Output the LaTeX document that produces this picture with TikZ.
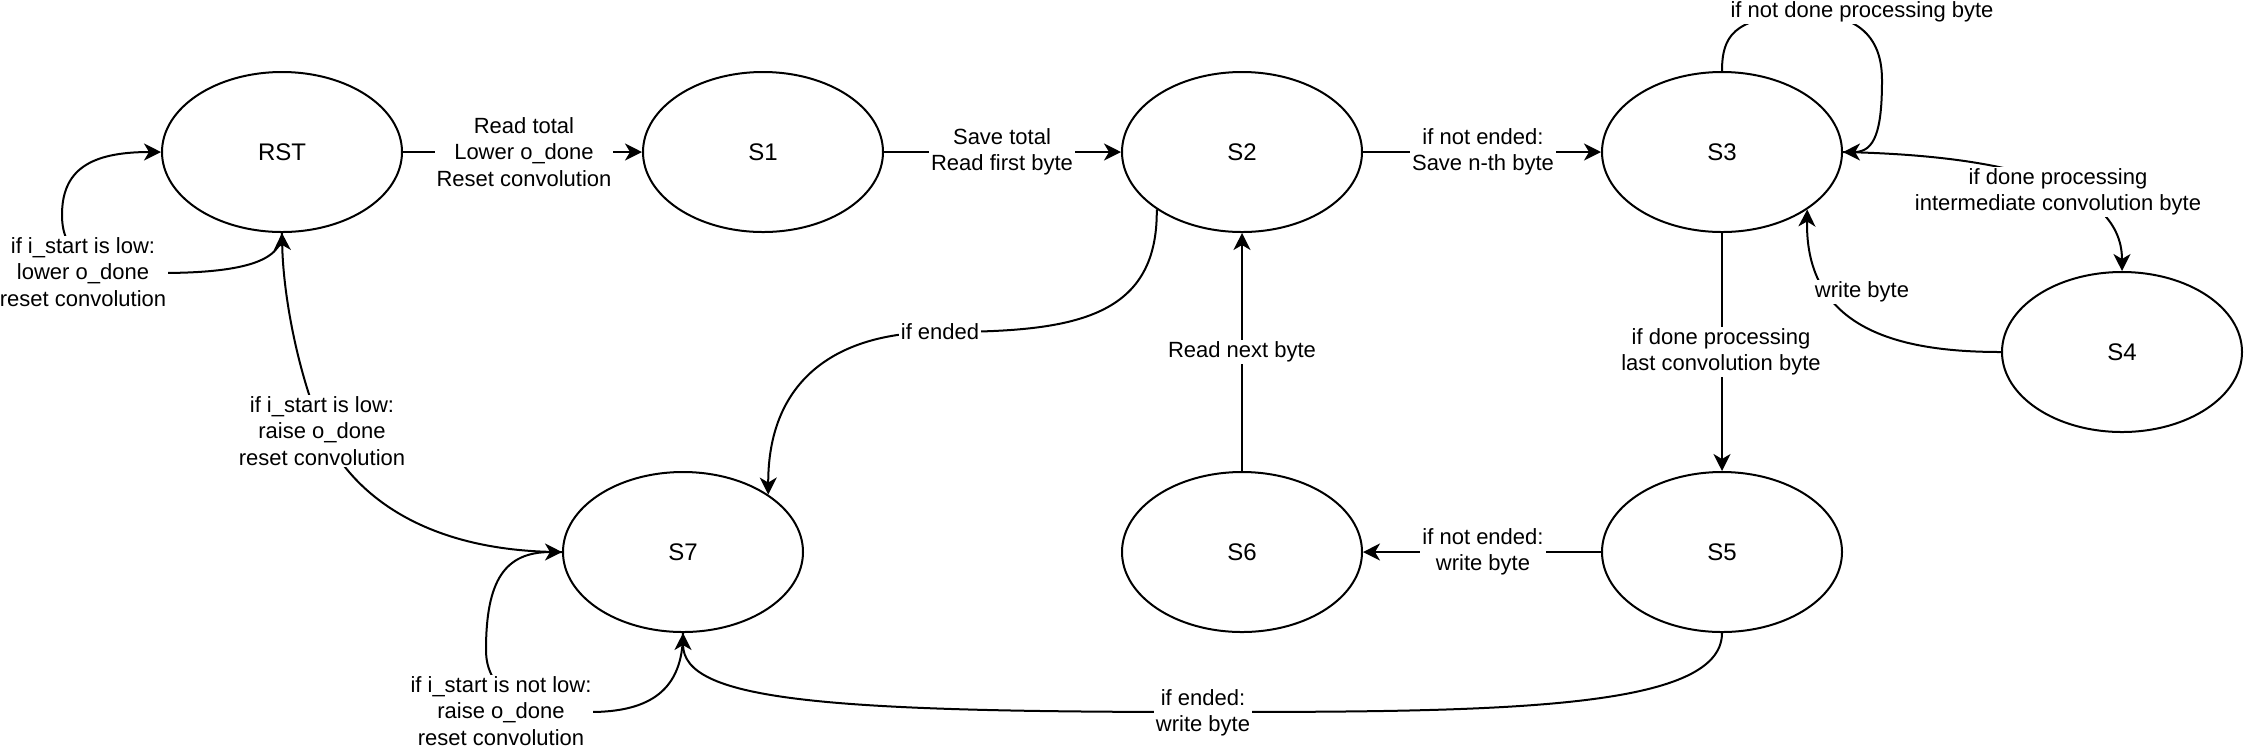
\documentclass[tikz,border=0pt]{standalone}
\usepackage{fontspec}
\setmainfont{Liberation Sans}
\usetikzlibrary{arrows.meta,shapes.geometric}
\begin{document}
\begin{tikzpicture}[x=0.5pt,y=-0.5pt,
  state/.style={ellipse,draw,line width=1pt,minimum width=120pt,minimum height=80pt,
    inner sep=0pt,font=\fontsize{12}{14.4}\selectfont},
  tr/.style={line width=1pt,-{Stealth[length=8.5pt,width=8.5pt,inset=2.5pt]}},
  lbl/.style={fill=white,align=center,inner sep=1pt,font=\fontsize{11}{13.2}\selectfont}]
\useasboundingbox (0,0) rectangle (2244,752);

% states
\node[state] (RST) at (282,152) {RST};
\node[state] (S1)  at (763,152) {S1};
\node[state] (S2)  at (1242,152) {S2};
\node[state] (S3)  at (1722,152) {S3};
\node[state] (S4)  at (2122,352) {S4};
\node[state] (S5)  at (1722,552) {S5};
\node[state] (S6)  at (1242,552) {S6};
\node[state] (S7)  at (683,552) {S7};

% transitions
\draw[tr] (RST.east) -- (S1.west);
\draw[tr] (S1.east) -- (S2.west);
\draw[tr] (S2.east) -- (S3.west);
\draw[tr] (S3.north) .. controls (1722,35) and (1735,20) .. (1790,14)
  .. controls (1850,10) and (1882,30) .. (1882,80)
  .. controls (1882,130) and (1875,152) .. (S3.east);
\draw[tr] (S3.east) .. controls (1990,155) and (2122,180) .. (S4.north);
\draw[tr] (S4.west) .. controls (1900,352) and (1805,330) .. (S3.-34);
\draw[tr] (S3.south) -- (S5.north);
\draw[tr] (S5.west) -- (S6.east);
\draw[tr] (S6.north) -- (S2.south);
\draw[tr] (S2.214) .. controls (1158,320) and (1070,332) .. (940,332)
  .. controls (830,332) and (768,385) .. (S7.34);
\draw[tr] (RST.south) .. controls (282,262) and (240,273) .. (160,273)
  .. controls (90,273) and (62,255) .. (62,215)
  .. controls (62,170) and (90,152) .. (RST.west);
\draw[tr] (S7.west) .. controls (420,552) and (345,490) .. (318,420)
  .. controls (295,360) and (283,290) .. (RST.south);
\draw[tr] (S7.south) .. controls (683,690) and (650,712) .. (590,712)
  .. controls (520,712) and (486,690) .. (486,650)
  .. controls (486,580) and (505,552) .. (S7.west);
\draw[tr] (S5.south) .. controls (1722,710) and (1500,712) .. (1203,712)
  .. controls (820,712) and (683,700) .. (S7.south);

% transition labels
\node[lbl] (l1) at (524,152) {Read total\\Lower o\_done\\Reset convolution};
\node[lbl] (l2) at (1002,152) {Save total\\Read first byte};
\node[lbl] (l3) at (1483,152) {if not ended:\\Save n-th byte};
\node[lbl] (l4) at (1862,12) {if not done processing byte};
\node[lbl] (l5) at (2058,192) {if done processing\\intermediate convolution byte};
\node[lbl] (l6) at (1862,292) {write byte};
\node[lbl] (l7) at (1721,352) {if done processing\\last convolution byte};
\node[lbl] (l8) at (1483,552) {if not ended:\\write byte};
\node[lbl] (l9) at (1242,352) {Read next byte};
\node[lbl] (l10) at (940,332) {if ended};
\node[lbl] (l11) at (83,272) {if i\_start is low:\\lower o\_done\\reset convolution};
\node[lbl] (l12) at (322,431) {if i\_start is low:\\raise o\_done\\reset convolution};
\node[lbl] (l13) at (501,711) {if i\_start is not low:\\raise o\_done\\reset convolution};
\node[lbl] (l14) at (1203,713) {if ended:\\write byte};
\end{tikzpicture}
\end{document}
